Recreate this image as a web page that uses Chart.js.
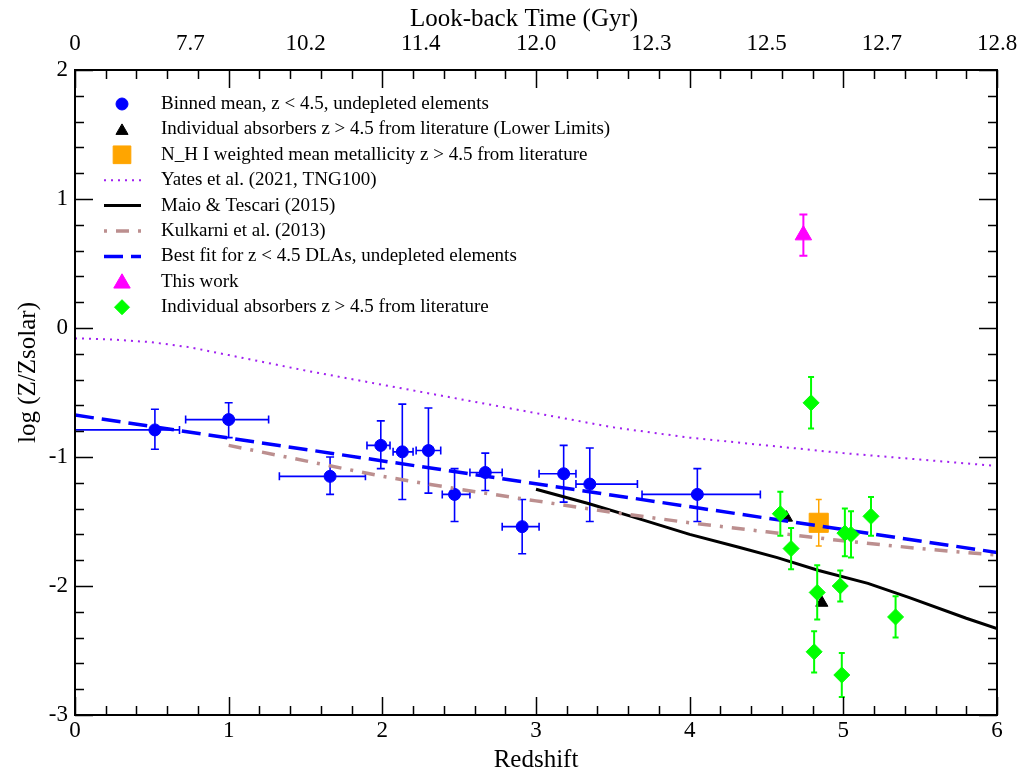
<!DOCTYPE html>
<html>
<head>
<meta charset="utf-8">
<script src="https://cdn.jsdelivr.net/npm/chart.js@4.4.1/dist/chart.umd.min.js"></script>
<style>
html,body{margin:0;padding:0;background:#ffffff;}
#wrap{width:1018px;height:775px;}
</style>
</head>
<body>
<div id="wrap"><canvas id="c" width="1018" height="775"></canvas></div>
<script>
// ---------------- DATA ----------------
// Binned mean, z < 4.5 (blue circles) with bin widths (x) and errors (y)
const binnedZ   = [0.52, 1.00, 1.66, 1.99, 2.13, 2.30, 2.47, 2.67, 2.91, 3.18, 3.35, 4.05];
const binnedY   = [-0.79, -0.71, -1.15, -0.91, -0.96, -0.95, -1.29, -1.12, -1.54, -1.13, -1.21, -1.29];
const binnedZLo = [0.00, 0.72, 1.33, 1.90, 2.07, 2.22, 2.39, 2.57, 2.78, 3.02, 3.26, 3.69];
const binnedZHi = [0.68, 1.26, 1.89, 2.05, 2.20, 2.38, 2.57, 2.78, 3.02, 3.26, 3.66, 4.46];
const binnedYHi = [-0.63, -0.58, -1.00, -0.72, -0.59, -0.62, -1.09, -0.97, -1.33, -0.91, -0.93, -1.09];
const binnedYLo = [-0.94, -0.85, -1.29, -1.09, -1.33, -1.28, -1.50, -1.26, -1.75, -1.35, -1.50, -1.50];

// Individual absorbers z > 4.5, lower limits (black triangles)
const limitZ = [4.63, 4.86];
const limitY = [-1.47, -2.13];

// N_HI weighted mean (orange square)
const meanZ   = [4.84];
const meanY   = [-1.51];
const meanYHi = [-1.33];
const meanYLo = [-1.69];

// Yates et al. (2021, TNG100)
const yatesZ = [0, 0.25, 0.5, 0.75, 1.0, 1.5, 2.0, 2.5, 3.0, 3.5, 4.0, 4.5, 5.0, 5.5, 6.0];
const yatesY = [-0.08, -0.09, -0.11, -0.15, -0.21, -0.33, -0.44, -0.55, -0.66, -0.77, -0.85, -0.91, -0.97, -1.02, -1.07];

// Maio & Tescari (2015)
const maioZ = [3.0, 3.34, 3.62, 4.0, 4.32, 4.57, 4.84, 5.16, 5.43, 5.8, 6.0];
const maioY = [-1.25, -1.36, -1.46, -1.60, -1.70, -1.78, -1.88, -1.98, -2.09, -2.25, -2.33];

// Kulkarni et al. (2013)
const kulkZ = [1.0, 1.5, 2.0, 2.5, 3.0, 3.5, 4.0, 4.5, 5.0, 5.5, 6.0];
const kulkY = [-0.91, -1.03, -1.15, -1.25, -1.34, -1.43, -1.51, -1.58, -1.65, -1.71, -1.76];

// Best fit for z < 4.5 DLAs
const fitZ = [0, 6];
const fitY = [-0.675, -1.74];

// This work (magenta triangle)
const thisZ   = [4.74];
const thisY   = [0.72];
const thisYHi = [0.88];
const thisYLo = [0.56];

// Individual absorbers z > 4.5 from literature (green diamonds)
const litZ   = [4.59, 4.66, 4.79, 4.83, 4.81, 4.98, 4.99, 5.01, 5.05, 5.18, 5.34];
const litY   = [-1.44, -1.71, -0.58, -2.05, -2.51, -2.00, -2.69, -1.59, -1.60, -1.46, -2.24];
const litYHi = [-1.27, -1.55, -0.38, -1.84, -2.35, -1.88, -2.52, -1.40, -1.42, -1.31, -2.08];
const litYLo = [-1.61, -1.87, -0.78, -2.26, -2.67, -2.12, -2.86, -1.77, -1.78, -1.61, -2.40];

// Axis ticks
const xRange = [0, 6];
const yRange = [-3, 2];
const xTickStep = 1;
const yTickStep = 1;
const minorStep = 0.2;
const topTickZ = [0, 0.75, 1.5, 2.25, 3.0, 3.75, 4.5, 5.25, 6.0];
const topTickLabels = ['0', '7.7', '10.2', '11.4', '12.0', '12.3', '12.5', '12.7', '12.8'];

const labels = [
  'Binned mean, z < 4.5, undepleted elements',
  'Individual absorbers z > 4.5 from literature (Lower Limits)',
  'N_H I weighted mean metallicity z > 4.5 from literature',
  'Yates et al. (2021, TNG100)',
  'Maio & Tescari (2015)',
  'Kulkarni et al. (2013)',
  'Best fit for z < 4.5 DLAs, undepleted elements',
  'This work',
  'Individual absorbers z > 4.5 from literature'
];

// ---------------- BUILD ----------------
const SERIF = '"Liberation Serif", "DejaVu Serif", serif';
const pts = (xs, ys) => xs.map((x, i) => ({x: x, y: ys[i]}));

const datasets = [
  {label: labels[0], data: pts(binnedZ, binnedY), pointStyle: 'circle', pointRadius: 6,
   backgroundColor: '#0000ff', borderColor: '#0000ff', borderWidth: 1, showLine: false},
  {label: labels[1], data: pts(limitZ, limitY), pointStyle: 'triangle', pointRadius: 7,
   backgroundColor: '#000000', borderColor: '#000000', borderWidth: 1, showLine: false},
  {label: labels[2], data: pts(meanZ, meanY), pointStyle: 'rect', pointRadius: 13.5,
   backgroundColor: '#ffa500', borderColor: '#ffa500', borderWidth: 1, showLine: false},
  {label: labels[3], data: pts(yatesZ, yatesY), showLine: true, pointRadius: 0,
   borderColor: '#a020f0', borderWidth: 2, borderDash: [2, 5], fill: false, tension: 0},
  {label: labels[4], data: pts(maioZ, maioY), showLine: true, pointRadius: 0,
   borderColor: '#000000', borderWidth: 3, fill: false, tension: 0},
  {label: labels[5], data: pts(kulkZ, kulkY), showLine: true, pointRadius: 0,
   borderColor: '#bc8f8f', borderWidth: 3.5, borderDash: [13, 9, 3, 9], fill: false, tension: 0},
  {label: labels[6], data: pts(fitZ, fitY), showLine: true, pointRadius: 0,
   borderColor: '#0000ff', borderWidth: 3.5, borderDash: [19, 8], fill: false, tension: 0},
  {label: labels[7], data: pts(thisZ, thisY), pointStyle: 'triangle', pointRadius: 9.5,
   backgroundColor: '#ff00ff', borderColor: '#ff00ff', borderWidth: 1, showLine: false},
  {label: labels[8], data: pts(litZ, litY), pointStyle: 'rectRot', pointRadius: 8,
   backgroundColor: '#00ff00', borderColor: '#00ff00', borderWidth: 1, showLine: false}
];
datasets.forEach((d, i) => { d.order = datasets.length - 1 - i; d.xAxisID = 'x'; d.yAxisID = 'y'; d.pointHoverRadius = d.pointRadius; });

const errorBars = {
  0: {xLo: binnedZLo, xHi: binnedZHi, yLo: binnedYLo, yHi: binnedYHi, color: '#0000ff', width: 1.6, cap: 4},
  2: {yLo: meanYLo, yHi: meanYHi, color: '#ffa500', width: 1.5, cap: 3},
  7: {yLo: thisYLo, yHi: thisYHi, color: '#ff00ff', width: 2, cap: 4},
  8: {yLo: litYLo, yHi: litYHi, color: '#00ff00', width: 2, cap: 3}
};

const errPlugin = {
  id: 'errbars',
  beforeDatasetDraw(chart, args) {
    const eb = errorBars[args.index];
    if (!eb) return;
    const ds = chart.data.datasets[args.index];
    const xs = chart.scales.x, ys = chart.scales.y;
    const a = chart.chartArea, ctx = chart.ctx;
    ctx.save();
    ctx.beginPath();
    ctx.rect(a.left, a.top, a.right - a.left, a.bottom - a.top);
    ctx.clip();
    ctx.strokeStyle = eb.color;
    ctx.lineWidth = eb.width;
    ctx.setLineDash([]);
    ds.data.forEach((p, i) => {
      const px = xs.getPixelForValue(p.x), py = ys.getPixelForValue(p.y);
      ctx.beginPath();
      if (eb.yLo) {
        const y1 = ys.getPixelForValue(eb.yLo[i]), y2 = ys.getPixelForValue(eb.yHi[i]);
        ctx.moveTo(px, y1); ctx.lineTo(px, y2);
        ctx.moveTo(px - eb.cap, y1); ctx.lineTo(px + eb.cap, y1);
        ctx.moveTo(px - eb.cap, y2); ctx.lineTo(px + eb.cap, y2);
      }
      if (eb.xLo) {
        const x1 = xs.getPixelForValue(eb.xLo[i]), x2 = xs.getPixelForValue(eb.xHi[i]);
        ctx.moveTo(x1, py); ctx.lineTo(x2, py);
        ctx.moveTo(x1, py - eb.cap); ctx.lineTo(x1, py + eb.cap);
        ctx.moveTo(x2, py - eb.cap); ctx.lineTo(x2, py + eb.cap);
      }
      ctx.stroke();
    });
    ctx.restore();
  }
};

function drawMarker(ctx, style, r, x, y, color) {
  ctx.save();
  ctx.fillStyle = color; ctx.strokeStyle = color; ctx.lineWidth = 1; ctx.setLineDash([]);
  ctx.beginPath();
  if (style === 'circle') {
    ctx.arc(x, y, r, 0, Math.PI * 2);
  } else if (style === 'triangle') {
    for (let k = 0; k < 3; k++) {
      const ang = -Math.PI / 2 + k * 2 * Math.PI / 3;
      const px = x + Math.cos(ang) * r, py = y + Math.sin(ang) * r;
      if (k === 0) ctx.moveTo(px, py); else ctx.lineTo(px, py);
    }
    ctx.closePath();
  } else if (style === 'rect') {
    const s = r * Math.SQRT1_2;
    ctx.rect(x - s, y - s, 2 * s, 2 * s);
  } else if (style === 'rectRot') {
    ctx.moveTo(x, y - r); ctx.lineTo(x + r, y); ctx.lineTo(x, y + r); ctx.lineTo(x - r, y); ctx.closePath();
  }
  ctx.fill(); ctx.stroke();
  ctx.restore();
}

const legendRowY0 = 104, legendRowStep = 25.4;
const legendPlugin = {
  id: 'insideLegend',
  afterDraw(chart) {
    const ctx = chart.ctx;
    ctx.save();
    chart.data.datasets.forEach((d, i) => {
      const y = legendRowY0 + i * legendRowStep;
      if (d.showLine) {
        ctx.save();
        ctx.strokeStyle = d.borderColor;
        ctx.lineWidth = d.borderWidth;
        ctx.setLineDash(d.borderDash || []);
        ctx.lineDashOffset = (i === 5) ? 22 : 0;
        ctx.beginPath(); ctx.moveTo(104, y); ctx.lineTo(141, y); ctx.stroke();
        ctx.restore();
      } else {
        let r = d.pointRadius;
        if (d.pointStyle === 'rect') r = 12.5;
        if (d.pointStyle === 'rectRot') r = 7.5;
        drawMarker(ctx, d.pointStyle, r, 122, d.pointStyle === 'triangle' ? y + 1.5 : y, d.backgroundColor);
      }
      ctx.fillStyle = '#000000';
      ctx.font = '19px ' + SERIF;
      ctx.textBaseline = 'middle';
      ctx.textAlign = 'left';
      ctx.fillText(d.label, 161, y);
    });
    ctx.restore();
  }
};

const framePlugin = {
  id: 'frameTicks',
  afterLayout(chart) {
    // Shift title anchors to match the reference placement (titles sit off-centre there)
    chart.scales.y.top -= 40;
    chart.scales.x2.left -= 24;
  },
  afterDraw(chart) {
    const ctx = chart.ctx, a = chart.chartArea;
    const xs = chart.scales.x, ys = chart.scales.y;
    ctx.save();
    ctx.strokeStyle = '#000000';
    ctx.setLineDash([]);
    ctx.lineWidth = 1.5;
    ctx.beginPath();
    const nx = Math.round((xRange[1] - xRange[0]) / minorStep);
    for (let k = 0; k <= nx; k++) {
      const v = xRange[0] + k * minorStep;
      const px = Math.round(xs.getPixelForValue(v)) + 0.5;
      const len = (k % 5 === 0) ? 18 : 9;
      ctx.moveTo(px, a.bottom); ctx.lineTo(px, a.bottom - len);
      ctx.moveTo(px, a.top); ctx.lineTo(px, a.top + len);
    }
    const ny = Math.round((yRange[1] - yRange[0]) / minorStep);
    for (let k = 0; k <= ny; k++) {
      const v = yRange[0] + k * minorStep;
      const py = Math.round(ys.getPixelForValue(v)) + 0.5;
      const len = (k % 5 === 0) ? 18 : 9;
      ctx.moveTo(a.left, py); ctx.lineTo(a.left + len, py);
      ctx.moveTo(a.right, py); ctx.lineTo(a.right - len, py);
    }
    ctx.stroke();
    ctx.lineWidth = 2;
    ctx.strokeRect(a.left, a.top, a.right - a.left, a.bottom - a.top);
    ctx.restore();
  }
};

const tickFont = {family: SERIF, size: 23};
const titleFont = {family: SERIF, size: 25};

new Chart(document.getElementById('c'), {
  type: 'scatter',
  data: {datasets: datasets},
  options: {
    responsive: false,
    devicePixelRatio: 1,
    animation: false,
    layout: {padding: 0},
    plugins: {legend: {display: false}, tooltip: {enabled: false}},
    events: [],
    scales: {
      x: {
        type: 'linear', position: 'bottom', min: xRange[0], max: xRange[1],
        grid: {display: false, drawTicks: false}, border: {display: false},
        ticks: {stepSize: xTickStep, color: '#000', font: tickFont, padding: 2, maxRotation: 0, autoSkip: false},
        title: {display: true, text: 'Redshift', color: '#000', font: titleFont, padding: {top: 0, bottom: 0}},
        afterFit: s => { s.height = 60; }
      },
      x2: {
        type: 'linear', position: 'top', min: xRange[0], max: xRange[1],
        grid: {display: false, drawTicks: true, tickLength: 12}, border: {display: false},
        afterBuildTicks: s => { s.ticks = topTickZ.map(v => ({value: v})); },
        ticks: {color: '#000', font: tickFont, padding: 0, maxRotation: 0, autoSkip: false,
                callback: (v, i) => topTickLabels[i]},
        title: {display: true, text: 'Look-back Time (Gyr)', color: '#000', font: titleFont, padding: {top: 4, bottom: 0}},
        afterFit: s => { s.height = 70; }
      },
      y: {
        type: 'linear', position: 'left', min: yRange[0], max: yRange[1],
        grid: {display: false, drawTicks: false}, border: {display: false},
        ticks: {stepSize: yTickStep, color: '#000', font: tickFont, padding: 7, autoSkip: false},
        title: {display: true, text: 'log (Z/Zsolar)', color: '#000', font: titleFont, padding: {top: 13, bottom: 0}},
        afterFit: s => { s.width = 75; }
      },
      y2: {
        type: 'linear', position: 'right', min: yRange[0], max: yRange[1],
        grid: {display: false, drawTicks: false}, border: {display: false},
        ticks: {display: false},
        afterFit: s => { s.width = 21; }
      }
    }
  },
  plugins: [errPlugin, framePlugin, legendPlugin]
});
</script>
</body>
</html>
